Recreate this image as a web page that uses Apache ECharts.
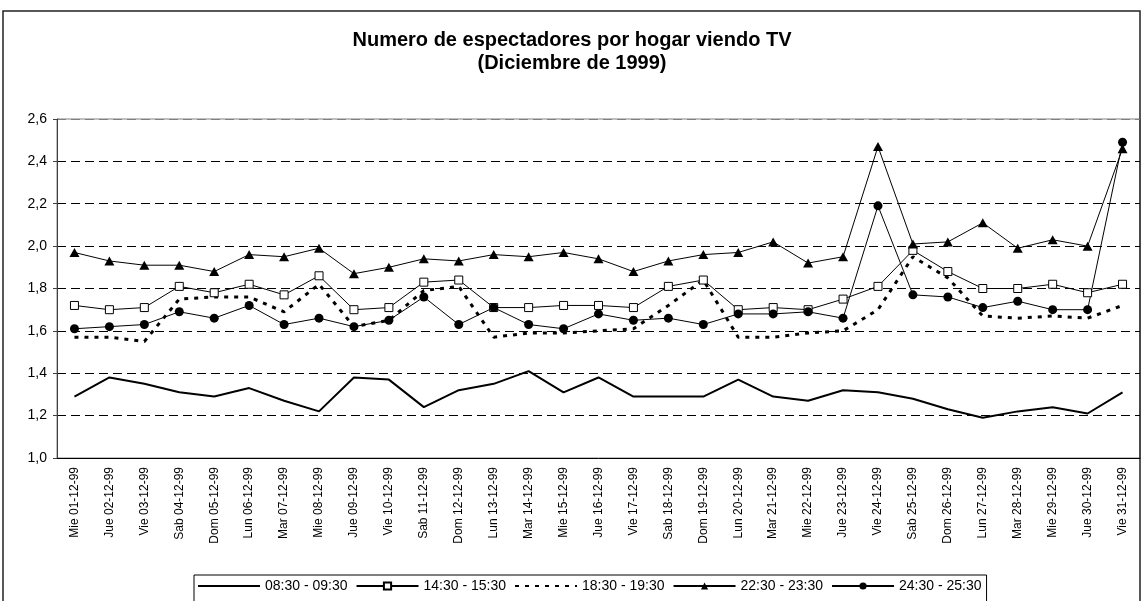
<!DOCTYPE html>
<html lang="es" style="height: 100%">
<head>
  <meta charset="utf-8">
</head>
<body style="height: 100%; margin: 0">
  <div id="container" style="height: 100%"></div>

  <script type="text/javascript" src="https://cdn.jsdelivr.net/npm/echarts@6/dist/echarts.min.js"></script>
  <script type="text/javascript">
    // datos
    var dias = ['Mie 01-12-99', 'Jue 02-12-99', 'Vie 03-12-99', 'Sab 04-12-99', 'Dom 05-12-99',
      'Lun 06-12-99', 'Mar 07-12-99', 'Mie 08-12-99', 'Jue 09-12-99', 'Vie 10-12-99',
      'Sab 11-12-99', 'Dom 12-12-99', 'Lun 13-12-99', 'Mar 14-12-99', 'Mie 15-12-99',
      'Jue 16-12-99', 'Vie 17-12-99', 'Sab 18-12-99', 'Dom 19-12-99', 'Lun 20-12-99',
      'Mar 21-12-99', 'Mie 22-12-99', 'Jue 23-12-99', 'Vie 24-12-99', 'Sab 25-12-99',
      'Dom 26-12-99', 'Lun 27-12-99', 'Mar 28-12-99', 'Mie 29-12-99', 'Jue 30-12-99',
      'Vie 31-12-99'];
    var nombres = ['08:30 - 09:30', '14:30 - 15:30', '18:30 - 19:30', '22:30 - 23:30', '24:30 - 25:30'];
    var franja0830 = [1.29, 1.38, 1.35, 1.31, 1.29, 1.33, 1.27, 1.22, 1.38, 1.37, 1.24, 1.32, 1.35, 1.41, 1.31,
      1.38, 1.29, 1.29, 1.29, 1.37, 1.29, 1.27, 1.32, 1.31, 1.28, 1.23, 1.19, 1.22, 1.24, 1.21, 1.31];
    var franja1430 = [1.72, 1.70, 1.71, 1.81, 1.78, 1.82, 1.77, 1.86, 1.70, 1.71, 1.83, 1.84, 1.71, 1.71, 1.72,
      1.72, 1.71, 1.81, 1.84, 1.70, 1.71, 1.70, 1.75, 1.81, 1.98, 1.88, 1.80, 1.80, 1.82, 1.78, 1.82];
    var franja1830 = [1.57, 1.57, 1.55, 1.75, 1.76, 1.76, 1.69, 1.82, 1.62, 1.65, 1.79, 1.81, 1.57, 1.59, 1.59,
      1.60, 1.61, 1.72, 1.84, 1.57, 1.57, 1.59, 1.60, 1.70, 1.95, 1.85, 1.67, 1.66, 1.67, 1.66, 1.72];
    var franja2230 = [1.97, 1.93, 1.91, 1.91, 1.88, 1.96, 1.95, 1.99, 1.87, 1.90, 1.94, 1.93, 1.96, 1.95, 1.97,
      1.94, 1.88, 1.93, 1.96, 1.97, 2.02, 1.92, 1.95, 2.47, 2.01, 2.02, 2.11, 1.99, 2.03, 2.00, 2.46];
    var franja2430 = [1.61, 1.62, 1.63, 1.69, 1.66, 1.72, 1.63, 1.66, 1.62, 1.65, 1.76, 1.63, 1.71, 1.63, 1.61,
      1.68, 1.65, 1.66, 1.63, 1.68, 1.68, 1.69, 1.66, 2.19, 1.77, 1.76, 1.71, 1.74, 1.70, 1.70, 2.49];

    var fuente = 'Liberation Sans, Arial, sans-serif';
    var dom = document.getElementById('container');
    var myChart = echarts.init(dom, null, { renderer: 'canvas' });

    // las series sin simbolo muestran solo la linea en la leyenda
    var leyenda = nombres.map(function (n, i) {
      if (i === 0 || i === 2) {
        return { name: n, itemStyle: { opacity: 0 } };
      }
      return { name: n };
    });

    var option = {
      animation: false,
      backgroundColor: '#fff',
      textStyle: { fontFamily: fuente, color: '#000' },
      title: {
        text: 'Numero de espectadores por hogar viendo TV\n(Diciembre de 1999)',
        left: 'center',
        top: 24,
        textStyle: { fontFamily: fuente, fontSize: 20, fontWeight: 'bold', lineHeight: 23, color: '#000' }
      },
      graphic: [{
        type: 'rect',
        shape: { x: 3, y: 11, width: 1137, height: 600 },
        style: { fill: null, stroke: '#222', lineWidth: 1.5 },
        silent: true
      }],
      grid: {
        left: 57, right: 4, top: 119, bottom: 143,
        show: true, borderColor: '#808080', borderWidth: 1
      },
      legend: {
        left: 194, top: 575,
        itemWidth: 62, itemHeight: 9, itemGap: 8,
        padding: [4, 5, 30, 3],
        borderColor: '#000', borderWidth: 1,
        textStyle: { fontFamily: fuente, fontSize: 14, color: '#000' },
        data: leyenda
      },
      xAxis: {
        type: 'category',
        data: dias,
        axisLine: { lineStyle: { color: '#000', width: 1 } },
        axisTick: { length: 4, lineStyle: { color: '#000' } },
        axisLabel: { rotate: 90, interval: 0, fontSize: 12, margin: 9, color: '#000', fontFamily: fuente }
      },
      yAxis: {
        type: 'value',
        min: 1.0, max: 2.6, interval: 0.2,
        axisLine: { show: true, lineStyle: { color: '#404040', width: 1 } },
        axisTick: { show: true, length: 4, lineStyle: { color: '#404040' } },
        axisLabel: {
          fontSize: 14, margin: 10, color: '#000', fontFamily: fuente,
          formatter: function (v) { return v.toFixed(1).replace('.', ','); }
        },
        splitLine: {
          lineStyle: {
            color: ['#000', '#000', '#000', '#000', '#000', '#000', '#000', '#000', '#808080'],
            type: [9, 5], width: 1
          }
        }
      },
      series: [
        {
          name: nombres[0], type: 'line', data: franja0830,
          symbol: 'none',
          lineStyle: { color: '#000', width: 2 },
          itemStyle: { color: '#000' }
        },
        {
          name: nombres[1], type: 'line', data: franja1430,
          symbol: 'rect', symbolSize: 8,
          lineStyle: { color: '#000', width: 1 },
          itemStyle: { color: '#fff', borderColor: '#000', borderWidth: 1 }
        },
        {
          name: nombres[2], type: 'line', data: franja1830,
          symbol: 'none',
          lineStyle: { color: '#000', width: 3, type: [4, 6] },
          itemStyle: { color: '#000' }
        },
        {
          name: nombres[3], type: 'line', data: franja2230,
          symbol: 'triangle', symbolSize: [10, 9],
          lineStyle: { color: '#000', width: 1 },
          itemStyle: { color: '#000' }
        },
        {
          name: nombres[4], type: 'line', data: franja2430,
          symbol: 'circle', symbolSize: 9,
          lineStyle: { color: '#000', width: 1 },
          itemStyle: { color: '#000' }
        }
      ]
    };

    myChart.setOption(option);
    window.addEventListener('resize', myChart.resize);
  </script>
</body>
</html>
